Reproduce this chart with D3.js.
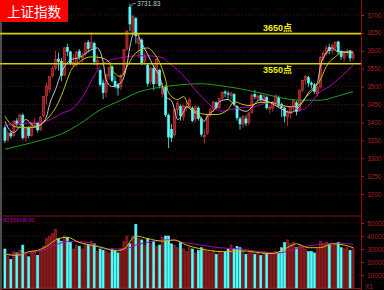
<!DOCTYPE html>
<html lang="zh">
<head>
<meta charset="UTF-8">
<title>上证指数</title>
<script src="https://cdn.jsdelivr.net/npm/d3@7"></script>
<style>
	body { margin: 0; background: #000; }
	svg { display: block; }
</style>
</head>
<body>
<svg id="chart"></svg>
<script>
// Data ---
const opens = [3385,3352,3370,3364,3404,3395,3420,3357,3383,3364,3396,3398,3380,3419,3474,3492,3530,3552,3577,3570,
	3532,3609,3597,3560,3562,3598,3580,3590,3623,3608,3620,3562,3545,3510,3484,3530,3555,3515,3505,3500,
	3535,3605,3722,3650,3690,3620,3630,3570,3560,3515,3550,3510,3545,3480,3500,3420,3380,3365,3435,3445,
	3415,3440,3445,3440,3410,3440,3410,3360,3370,3420,3438,3455,3440,3468,3485,3480,3475,3478,3445,3410,
	3395,3410,3400,3428,3478,3468,3475,3460,3470,3438,3440,3455,3470,3450,3440,3415,3425,3440,3455,3432,
	3490,3518,3525,3510,3505,3480,3499,3580,3592,3610,3600,3610,3625,3598,3580,3595,3600,3580];
const highs = [3392,3378,3376,3406,3412,3425,3426,3386,3390,3400,3412,3402,3418,3474,3511,3528,3556,3600,3595,3580,
	3610,3620,3600,3590,3600,3605,3595,3625,3630,3652,3625,3590,3550,3520,3535,3555,3560,3530,3510,3535,
	3605,3658,3731.83,3700,3695,3650,3635,3595,3565,3555,3560,3580,3550,3510,3505,3425,3395,3440,3460,3450,
	3450,3460,3470,3445,3448,3445,3415,3380,3422,3440,3460,3458,3468,3486,3490,3488,3485,3482,3448,3415,
	3420,3420,3430,3480,3490,3478,3480,3478,3475,3448,3460,3478,3475,3455,3445,3435,3445,3465,3460,3492,
	3520,3532,3530,3515,3510,3500,3585,3600,3615,3620,3620,3626,3628,3602,3595,3605,3602,3598];
const lows = [3342,3345,3355,3360,3388,3392,3352,3345,3355,3360,3385,3372,3376,3414,3450,3482,3525,3545,3545,3515,
	3530,3585,3560,3555,3555,3575,3565,3585,3595,3600,3560,3545,3500,3465,3470,3520,3512,3495,3475,3490,
	3530,3600,3655,3640,3620,3580,3560,3560,3500,3505,3490,3505,3495,3470,3415,3328,3345,3360,3420,3405,
	3405,3430,3440,3400,3400,3405,3360,3341,3365,3415,3430,3435,3438,3462,3470,3466,3465,3445,3405,3380,
	3385,3390,3392,3425,3465,3460,3455,3455,3435,3425,3430,3450,3440,3415,3400,3390,3410,3432,3420,3430,
	3485,3505,3500,3495,3480,3472,3495,3570,3585,3590,3590,3600,3590,3575,3570,3585,3570,3572];
const closes = [3350,3370,3362,3404,3395,3421,3357,3383,3363,3397,3398,3379,3414,3473,3502,3528,3550,3576,3570,3531,
	3608,3598,3566,3567,3596,3584,3584,3621,3606,3624,3569,3573,3506,3483,3533,3553,3517,3501,3496,3532,
	3603,3655,3675,3696,3642,3636,3564,3585,3509,3551,3508,3576,3503,3501,3421,3359,3357,3436,3453,3419,
	3446,3445,3463,3405,3443,3411,3367,3363,3418,3435,3457,3441,3466,3484,3482,3479,3482,3451,3413,3396,
	3417,3398,3426,3477,3472,3472,3465,3474,3441,3442,3457,3474,3447,3441,3418,3428,3441,3462,3430,3490,
	3517,3529,3510,3506,3486,3497,3581,3593,3608,3600,3615,3624,3597,3584,3591,3599,3580,3591];
const volumes = [30000,24000,22000,28000,27000,29000,33000,26000,24000,27000,28000,25000,29000,32000,38000,40000,42000,45000,38000,36000,
	40000,39000,35000,30000,33000,32000,30000,34000,33000,36000,34000,28000,30000,29000,28000,27000,30000,29000,27000,30000,
	36000,40000,34000,40000,49000,38000,37000,33000,38000,34000,36000,32000,33000,39000,40000,40000,34000,33000,31000,35000,
	30000,28000,31000,30000,27000,29000,31000,30000,28000,27000,29000,26000,28000,27000,28000,30000,33000,30000,32000,31000,
	28000,26000,27000,29000,26000,27000,25000,28000,27000,26000,27000,28000,27000,31000,35000,37000,34000,35000,31000,33000,
	32000,30000,28000,28000,27000,30000,36000,34000,35000,33000,33000,34000,35000,31000,30000,31000,29000,31000];

// moving averages: [candle index, value]
const ma5 = [[0,3403],[1,3386],[3,3372],[5,3389],[7,3408],[10,3389],[12,3394],[14,3417],[15,3450],[17,3492],[19,3539],
	[21,3567],[22,3575],[25,3581],[29,3603],[31,3608],[33,3569],[34,3519],[36,3500],[39,3511],[41,3560],[42,3610],
	[43,3645],[44,3652],[46,3620],[48,3590],[50,3556],[52,3528],[54,3472],[56,3460],[57,3436],[58,3408],[60,3428],
	[61,3444],[63,3431],[65,3422],[67,3403],[68,3417],[71,3442],[72,3458],[75,3464],[77,3450],[79,3436],[81,3431],
	[86,3464],[89,3456],[92,3442],[96,3428],[98,3436],[100,3456],[102,3483],[105,3511],[106,3556],[108,3594],
	[110,3608],[112,3597],[114,3597],[117,3594]];
const ma10 = [[0,3417],[3,3389],[5,3386],[10,3386],[13,3400],[15,3417],[18,3456],[20,3497],[22,3542],[25,3569],
	[29,3583],[32,3581],[35,3569],[36,3547],[39,3528],[41,3556],[44,3594],[48,3608],[50,3594],[52,3567],[54,3519],
	[55,3483],[58,3464],[60,3472],[62,3444],[65,3428],[68,3422],[71,3422],[75,3436],[77,3458],[80,3450],[82,3447],
	[86,3456],[89,3456],[92,3450],[96,3444],[99,3450],[101,3469],[103,3486],[106,3519],[108,3556],[111,3583],
	[113,3594],[117,3597]];
const ma20 = [[0,3392],[6,3397],[13,3402],[16,3410],[19,3425],[23,3440],[26,3470],[30,3530],[33,3565],[40,3582],
	[44,3586],[48,3586],[53,3581],[55,3567],[59,3539],[62,3511],[65,3481],[67,3464],[70,3442],[73,3431],[76,3436],
	[80,3442],[83,3442],[86,3450],[90,3456],[94,3444],[96,3442],[100,3436],[103,3456],[105,3478],[109,3500],
	[113,3528],[117,3560]];
const ma60 = [[0,3325],[5,3335],[12,3350],[19,3368],[25,3395],[32,3435],[39,3462],[45,3485],[52,3498],[59,3505],
	[66,3508],[72,3503],[79,3494],[86,3482],[92,3470],[99,3462],[106,3462],[112,3474],[117,3486]];
const volMa5 = [[0,26000],[4,25000],[8,28000],[11,29000],[14,32000],[18,38000],[21,39000],[25,35000],[29,33000],
	[33,31000],[37,28500],[40,30000],[44,40000],[48,38000],[53,36000],[57,37000],[61,33000],[66,30000],[73,28000],
	[80,28500],[86,27000],[90,26500],[94,30000],[98,34000],[102,31000],[106,31000],[110,34000],[114,33000],[117,31000]];
const volMa10 = [[0,26000],[6,26500],[13,29000],[18,34000],[22,36000],[28,35000],[34,30000],[40,30000],[44,33000],
	[50,36000],[55,37000],[60,35000],[66,33000],[72,31000],[79,30000],[86,27700],[92,27000],[96,29000],[100,31500],
	[106,33500],[112,34500],[117,33500]];

const priceTicks = [3200,3250,3300,3350,3400,3450,3500,3550,3600,3650,3700];
const volTicks = [10000,20000,30000,40000,50000];
const levels = [3648, 3564];
const levelLabels = ['3650点', '3550点'];
const highIndex = 42, highLabel = '3731.83';
const volLabel = '8156608.00';
const title = '上证指数';

// Layout ---
const W = 384, H = 290;
const plotRight = 361;
const UP = '#e03c3c', UPFILL = '#8c1a1a', DOWN = '#54fcfc', GRID = '#5a0f0f', AXIS = '#a82222';

const svg = d3.select('#chart').attr('width', W).attr('height', H)
	.style('background', '#000');

const x = d3.scaleBand().domain(d3.range(closes.length)).range([3, 355]).padding(0.3);
const bw = x.bandwidth();
const cx = i => x(i) + bw / 2;
const y = d3.scaleLinear().domain([3200, 3700]).range([194, 15]);
const yv = d3.scaleLinear().domain([0, 50000]).range([288, 223]);

svg.append('defs').append('clipPath').attr('id', 'plotClip')
	.append('rect').attr('x', 0).attr('y', 0).attr('width', plotRight).attr('height', 214);

// Grid ---
svg.append('g').selectAll('line').data(priceTicks).join('line')
	.attr('x1', 2).attr('x2', plotRight).attr('y1', d => y(d)).attr('y2', d => y(d))
	.attr('stroke', GRID).attr('stroke-dasharray', '1 2');
svg.append('g').selectAll('line').data(volTicks).join('line')
	.attr('x1', 2).attr('x2', plotRight).attr('y1', d => yv(d)).attr('y2', d => yv(d))
	.attr('stroke', GRID).attr('stroke-dasharray', '1 2');

// Frame lines ---
svg.append('line').attr('x1', 1).attr('x2', 1).attr('y1', 0).attr('y2', H).attr('stroke', '#9a9a9a');
svg.append('line').attr('x1', 0).attr('x2', plotRight).attr('y1', 216).attr('y2', 216).attr('stroke', '#8c1010');
svg.append('line').attr('x1', 0).attr('x2', plotRight).attr('y1', 288.5).attr('y2', 288.5).attr('stroke', '#8c1010');

// Candles ---
const plot = svg.append('g').attr('clip-path', 'url(#plotClip)');
const idx = d3.range(closes.length);
const isUp = i => closes[i] >= opens[i];

plot.append('g').selectAll('line').data(idx).join('line')
	.attr('x1', cx).attr('x2', cx)
	.attr('y1', i => y(highs[i])).attr('y2', i => y(lows[i]))
	.attr('stroke', i => isUp(i) ? UP : DOWN).attr('stroke-width', 0.8);
plot.append('g').selectAll('rect').data(idx).join('rect')
	.attr('x', i => x(i)).attr('width', bw)
	.attr('y', i => y(Math.max(opens[i], closes[i])))
	.attr('height', i => Math.max(0.8, Math.abs(y(opens[i]) - y(closes[i]))))
	.attr('fill', i => isUp(i) ? UPFILL : DOWN)
	.attr('stroke', i => isUp(i) ? UP : DOWN).attr('stroke-width', 0.6);

// Moving averages ---
const maLine = d3.line().x(d => cx(d[0])).y(d => y(d[1])).curve(d3.curveMonotoneX);
[[ma60, '#1e9e1e'], [ma20, '#b400b4'], [ma10, '#c8c400'], [ma5, '#c8c8c8']].forEach(([data, color]) => {
	plot.append('path').attr('d', maLine(data)).attr('fill', 'none')
		.attr('stroke', color).attr('stroke-width', 1);
});

// Horizontal levels ---
svg.append('g').selectAll('line').data(levels).join('line')
	.attr('x1', 0).attr('x2', plotRight).attr('y1', d => y(d)).attr('y2', d => y(d))
	.attr('stroke', '#d2d200').attr('stroke-width', 1.6);
svg.append('g').selectAll('text').data(levels).join('text')
	.attr('x', 263).attr('y', (d, i) => i === 0 ? y(d) - 3 : y(d) + 9)
	.attr('fill', '#f0f000').style('font', 'bold 9px "Liberation Sans", "Noto Sans CJK SC", sans-serif')
	.text((d, i) => levelLabels[i]);

// High marker ---
const hx = cx(highIndex), hy = y(highs[highIndex]);
svg.append('path').attr('d', `M${hx + 1},${hy + 3} L${hx + 3},${hy} L${hx + 6},${hy}`)
	.attr('fill', 'none').attr('stroke', '#bbb').attr('stroke-width', 0.7);
svg.append('text').attr('x', hx + 7).attr('y', hy + 2.5).attr('fill', '#c8c8c8')
	.style('font', '6.5px "Liberation Sans", sans-serif').text(highLabel);

// Volume ---
const vol = svg.append('g');
vol.selectAll('rect').data(idx).join('rect')
	.attr('x', i => x(i)).attr('width', bw)
	.attr('y', i => yv(volumes[i])).attr('height', i => yv(0) - yv(volumes[i]))
	.attr('fill', i => isUp(i) ? '#6e1414' : DOWN)
	.attr('stroke', i => isUp(i) ? '#b42626' : DOWN).attr('stroke-width', 0.6);
const vLine = d3.line().x(d => cx(d[0])).y(d => yv(d[1])).curve(d3.curveMonotoneX);
[[volMa10, '#b400b4'], [volMa5, '#c8c400']].forEach(([data, color]) => {
	vol.append('path').attr('d', vLine(data)).attr('fill', 'none')
		.attr('stroke', color).attr('stroke-width', 1);
});
svg.append('text').attr('x', 3).attr('y', 222).attr('fill', '#b000b0')
	.style('font', '6px "Liberation Sans", sans-serif').text(volLabel);

// Right axes ---
const axisFont = '6.5px "Liberation Sans", sans-serif';
const pAxis = svg.append('g').attr('transform', `translate(${plotRight},0)`)
	.call(d3.axisRight(y).tickValues(priceTicks).tickSize(3).tickPadding(3).tickFormat(d3.format('d')));
const vAxis = svg.append('g').attr('transform', `translate(${plotRight},0)`)
	.call(d3.axisRight(yv).tickValues(volTicks).tickSize(3).tickPadding(3).tickFormat(d3.format('d')));
[pAxis, vAxis].forEach(g => {
	g.select('.domain').remove();
	g.selectAll('line').attr('stroke', AXIS);
	g.selectAll('text').attr('fill', AXIS).style('font', axisFont);
});
svg.append('line').attr('x1', plotRight + 0.5).attr('x2', plotRight + 0.5).attr('y1', 0).attr('y2', H)
	.attr('stroke', '#8c1010');
svg.append('text').attr('x', 365).attr('y', 289).attr('fill', AXIS)
	.style('font', axisFont).text('X1');

// Title box ---
svg.append('rect').attr('x', 0).attr('y', 0).attr('width', 68).attr('height', 22).attr('fill', '#f00');
svg.append('text').attr('x', 34).attr('y', 16.5).attr('text-anchor', 'middle').attr('fill', '#fff')
	.style('font', '13.5px "Noto Sans CJK SC", sans-serif').text(title);
</script>
</body>
</html>
